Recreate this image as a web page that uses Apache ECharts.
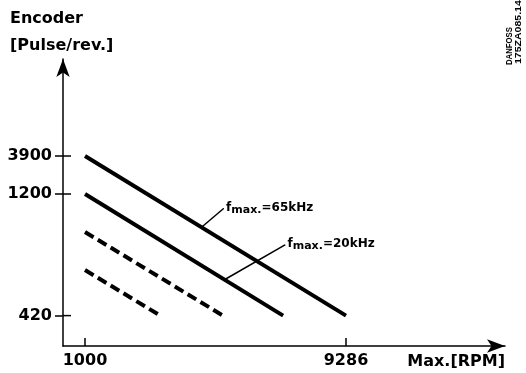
<!DOCTYPE html>
<html>
<head>
<meta charset="utf-8">
<script src="https://cdn.jsdelivr.net/npm/echarts@6/dist/echarts.min.js"></script>
<style>
  html, body { margin: 0; padding: 0; background: #fff; }
  #chart { width: 526px; height: 373px; }
</style>
</head>
<body>
<div id="chart"></div>
<script>
// Schematic: encoder resolution vs. maximum speed for two max. frequencies.
// The vertical axis is drawn on a schematic "level" scale; tick labels name the resolutions.
const yTickLevels = [0.8, 4, 5];
const yTickLabels = ['420', '1200', '3900'];
const xTickValues = [1000, 9286];
const xTickLabels = ['1000', '9286'];

// Line end points: [start, end] in RPM and in level units
const rpm65 = [1000, 9286];
const level65 = [5, 0.8];
const rpm20 = [1000, 7290];
const level20 = [4, 0.8];
const rpmDashA = [1000, 5380];
const levelDashA = [3, 0.8];
const rpmDashB = [1000, 3390];
const levelDashB = [2, 0.8];

// Leader lines for the frequency notes: [from, to]
const leader65Rpm = [4700, 5400];
const leader65Level = [3.125, 3.62];
const leader20Rpm = [5440, 7350];
const leader20Level = [1.75, 2.66];

const X_MIN = 301.6, X_MAX = 14334, Y_MIN = 0, Y_MAX = 7.553;
const FONT = 'DejaVu Sans';
const chart = echarts.init(document.getElementById('chart'), null, { renderer: 'canvas' });

function pairs(xs, ys) { return xs.map((x, i) => [x, ys[i]]); }

function mainLine(name, xs, ys, dashed) {
  return {
    name, type: 'line', data: pairs(xs, ys), showSymbol: false, silent: true,
    animation: false,
    lineStyle: { color: '#000', width: 4, type: dashed ? [10, 5] : 'solid', cap: 'butt' }
  };
}

function leader(name, xs, ys, value) {
  const d = pairs(xs, ys).map(p => ({ value: p, label: { show: false } }));
  d[1].label = {
    show: true, position: 'right', distance: 2,
    formatter: '{f|f}{s|max.}{v|=' + value + '}',
    rich: {
      f: { fontFamily: FONT, fontWeight: 'bold', fontSize: 12, color: '#000', lineHeight: 14, verticalAlign: 'top' },
      s: { fontFamily: FONT, fontWeight: 'bold', fontSize: 11, color: '#000', lineHeight: 14, padding: [6, 0, 0, 0], verticalAlign: 'bottom' },
      v: { fontFamily: FONT, fontWeight: 'bold', fontSize: 12, color: '#000', lineHeight: 14, verticalAlign: 'top' }
    }
  };
  return {
    name, type: 'line', data: d, showSymbol: true, symbol: 'circle', symbolSize: 1,
    silent: true, animation: false,
    itemStyle: { color: '#000' },
    lineStyle: { color: '#000', width: 1.5 }
  };
}

// inner half of the crossing tick marks on the vertical axis
const innerTicks = {
  name: 'inner ticks', type: 'custom', silent: true, animation: false,
  data: yTickLevels.map(v => [X_MIN, v]),
  renderItem: (params, api) => {
    const p = api.coord([api.value(0), api.value(1)]);
    return {
      type: 'line',
      shape: { x1: p[0], y1: p[1], x2: p[0] + 8, y2: p[1] },
      style: { stroke: '#000', lineWidth: 1.5 }
    };
  }
};

const axisText = { fontFamily: FONT, fontWeight: 'bold', fontSize: 16, color: '#000' };

const option = {
  animation: false,
  backgroundColor: '#fff',
  grid: { left: 63, right: 21, top: 59, bottom: 27, containLabel: false },
  xAxis: {
    type: 'value', min: X_MIN, max: X_MAX,
    axisLine: { show: true, lineStyle: { color: '#000', width: 1.5 },
      symbol: ['none', 'arrow'], symbolSize: [10, 18], symbolOffset: [0, 0] },
    axisTick: { show: true, inside: true, length: 8, lineStyle: { color: '#000', width: 1.5 },
      customValues: xTickValues },
    axisLabel: Object.assign({ margin: 7, customValues: xTickValues,
      formatter: v => xTickLabels[xTickValues.indexOf(v)] }, axisText),
    splitLine: { show: false }
  },
  yAxis: {
    type: 'value', min: Y_MIN, max: Y_MAX,
    axisLine: { show: true, lineStyle: { color: '#000', width: 1.5 },
      symbol: ['none', 'arrow'], symbolSize: [10, 18], symbolOffset: [0, 0] },
    axisTick: { show: true, inside: false, length: 8, lineStyle: { color: '#000', width: 1.5 },
      customValues: yTickLevels },
    axisLabel: Object.assign({ margin: 11, customValues: yTickLevels,
      formatter: v => yTickLabels[yTickLevels.indexOf(v)] }, axisText),
    splitLine: { show: false }
  },
  series: [
    mainLine('fmax 65kHz', rpm65, level65, false),
    mainLine('fmax 20kHz', rpm20, level20, false),
    mainLine('upper dashed', rpmDashA, levelDashA, true),
    mainLine('lower dashed', rpmDashB, levelDashB, true),
    leader('note 65kHz', leader65Rpm, leader65Level, '65kHz'),
    leader('note 20kHz', leader20Rpm, leader20Level, '20kHz'),
    innerTicks
  ],
  graphic: [
    { type: 'text', left: 10, top: 11, style: { text: 'Encoder', font: 'bold 16px "DejaVu Sans"', fill: '#000' } },
    { type: 'text', left: 10, top: 38, style: { text: '[Pulse/rev.]', font: 'bold 16px "DejaVu Sans"', fill: '#000' } },
    { type: 'text', x: 505, y: 362, style: { text: 'Max.[RPM]', font: 'bold 16px "DejaVu Sans"', fill: '#000', align: 'right', verticalAlign: 'middle' } },
    { type: 'text', x: 510, y: 65, rotation: Math.PI / 2, scaleX: 0.86,
      style: { text: 'DANFOSS', font: 'bold 9px "Liberation Sans"', fill: '#000', align: 'left', verticalAlign: 'middle' } },
    { type: 'text', x: 519, y: 64, rotation: Math.PI / 2, scaleX: 1.17,
      style: { text: '175ZA085.14', font: 'bold 9px "Liberation Sans"', fill: '#000', align: 'left', verticalAlign: 'middle' } }
  ]
};

chart.setOption(option);
</script>
</body>
</html>
